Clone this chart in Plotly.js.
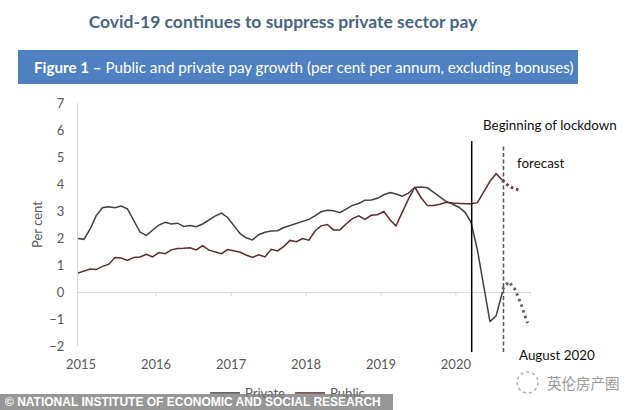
<!DOCTYPE html>
<html><head><meta charset="utf-8">
<script src="https://cdn.plot.ly/plotly-3.0.1.min.js"></script>
<style>
html,body{margin:0;padding:0;background:#fff;}
#wrap{position:relative;width:634px;height:410px;overflow:hidden;}
#chart{width:634px;height:430px;}
#banner{position:absolute;left:0;top:394px;width:393px;height:16px;background:rgba(125,125,125,0.8);color:#fff;font:bold 12px "Liberation Sans",Arial,sans-serif;line-height:16px;white-space:nowrap;padding-left:5px;box-sizing:border-box;overflow:hidden;}
</style></head><body>
<div id="wrap"><div id="chart"></div><div id="banner">© NATIONAL INSTITUTE OF ECONOMIC AND SOCIAL RESEARCH</div></div>
<script>
// ---- data (per cent per annum, monthly, from Dec 2014) ----
const startMonth = '2014-12';
const privateValues = [1.98,1.95,2.35,2.82,3.12,3.16,3.12,3.18,3.08,2.62,2.22,2.10,
  2.27,2.48,2.58,2.52,2.55,2.43,2.46,2.42,2.52,2.67,2.81,2.92,
  2.76,2.45,2.15,2.01,1.93,2.12,2.21,2.26,2.27,2.39,2.46,2.54,
  2.60,2.69,2.83,2.97,3.03,3.01,2.94,3.08,3.21,3.28,3.40,3.41,
  3.47,3.60,3.68,3.63,3.55,3.66,3.87,3.89,3.86,3.69,3.52,3.35,
  3.26,3.14,2.95,2.58,1.55,0.25,-1.10,-0.88,0.00];
const publicValues = [0.70,0.78,0.85,0.83,0.95,1.02,1.28,1.26,1.17,1.28,1.30,1.40,
  1.30,1.46,1.42,1.56,1.61,1.62,1.64,1.56,1.72,1.55,1.48,1.42,
  1.57,1.52,1.47,1.37,1.28,1.38,1.30,1.58,1.52,1.69,1.91,1.86,
  1.98,1.92,2.27,2.45,2.50,2.30,2.30,2.52,2.72,2.82,2.69,2.84,
  2.86,2.98,2.67,2.45,2.95,3.45,3.88,3.50,3.20,3.20,3.25,3.32,
  3.30,3.28,3.27,3.27,3.31,3.70,4.10,4.38,4.14];
const forecastStartMonth = '2020-08';
const privateForecast = [0.10,0.38,0.10,-0.48,-1.15];
const publicForecast = [4.14,3.92,3.82,3.75];
const yearTickVals = ['2015-01-01','2016-01-01','2017-01-01','2018-01-01','2019-01-01','2020-01-01'];
const yearTickText = ['2015','2016','2017','2018','2019','2020'];
const zeroTickVals = ['2016-01-01','2017-01-01','2018-01-01','2019-01-01','2020-01-01','2021-01-01'];
const lockdownDate = '2020-03-18';
const forecastDate = '2020-08-20';
const seriesNames = ['Private','Public'];

function months(start, n){
  const p = start.split('-').map(Number);
  const out = [];
  for (let i = 0; i < n; i++) {
    const t = (p[1] - 1) + i;
    const yy = p[0] + Math.floor(t / 12);
    const mm = t % 12 + 1;
    out.push(yy + '-' + String(mm).padStart(2, '0') + '-15');
  }
  return out;
}

// ---- layout helpers (canvas drawn 20px taller, cropped to 410 by the wrapper) ----
const M = {l:78, r:103, t:103, b:84}, W = 634, H = 430;
const PW = W - M.l - M.r, PH = H - M.t - M.b;
const px = v => (v - M.l) / PW;
const py = v => (H - M.b - v) / PH;

const FONT = 'Lato, "Open Sans", sans-serif';
const privColor = '#404040', pubColor = '#5b2c2c';

const traces = [
  {x: months(startMonth, privateValues.length), y: privateValues, name: seriesNames[0], type: 'scatter', mode: 'lines',
   line: {color: privColor, width: 1.5}},
  {x: months(startMonth, publicValues.length), y: publicValues, name: seriesNames[1], type: 'scatter', mode: 'lines',
   line: {color: pubColor, width: 1.5}},
  {x: months(forecastStartMonth, privateForecast.length), y: privateForecast, type: 'scatter', mode: 'lines', showlegend: false,
   line: {color: '#5f5f5f', width: 3, dash: '2.5px,3.5px'}},
  {x: months(forecastStartMonth, publicForecast.length), y: publicForecast, type: 'scatter', mode: 'lines', showlegend: false,
   line: {color: '#7a2e3e', width: 3, dash: '2.5px,3px'}}
];

const shapes = [
  {type: 'rect', xref: 'paper', yref: 'paper', x0: px(18), x1: px(578), y0: py(84), y1: py(50),
   fillcolor: '#4f81c2', line: {width: 0}, layer: 'below'},
  {type: 'line', xref: 'x', yref: 'paper', x0: lockdownDate, x1: lockdownDate, y0: py(352), y1: py(141),
   line: {color: '#000', width: 1.5}},
  {type: 'line', xref: 'x', yref: 'paper', x0: forecastDate, x1: forecastDate, y0: py(352), y1: py(146),
   line: {color: '#555', width: 1.5, dash: '4px,2.5px'}},
  {type: 'circle', xref: 'paper', yref: 'paper', x0: px(517), x1: px(538), y0: py(393), y1: py(372),
   line: {color: '#b0b0b0', width: 1.5, dash: 'dot'}}
].concat(zeroTickVals.map(d => ({type: 'line', xref: 'x', yref: 'y', x0: d, x1: d, y0: 0, y1: -0.15,
   line: {color: '#d9d9d9', width: 1}})));

const annotations = [
  {xref: 'paper', yref: 'paper', x: px(304), y: py(67), xanchor: 'center', yanchor: 'middle', showarrow: false,
   text: '<b>Figure 1 –</b> Public and private pay growth (per cent per annum, excluding bonuses)',
   font: {family: FONT, size: 15.2, color: '#fff'}},
  {xref: 'paper', yref: 'paper', x: px(481), y: py(125), xanchor: 'left', yanchor: 'middle', showarrow: false,
   text: 'Beginning of lockdown', font: {family: FONT, size: 13.4, color: '#111'}},
  {xref: 'paper', yref: 'paper', x: px(515), y: py(163), xanchor: 'left', yanchor: 'middle', showarrow: false,
   text: 'forecast', font: {family: FONT, size: 13.4, color: '#111'}},
  {xref: 'paper', yref: 'paper', x: px(517), y: py(355), xanchor: 'left', yanchor: 'middle', showarrow: false,
   text: 'August 2020', font: {family: FONT, size: 13.4, color: '#111'}},
  {xref: 'paper', yref: 'paper', x: px(545), y: py(382), xanchor: 'left', yanchor: 'middle', showarrow: false,
   text: '英伦房产圈', font: {family: '"Noto Sans CJK SC", sans-serif', size: 14.5, color: '#9a9a9a'}}
];

const layout = {
  width: W, height: H, margin: M,
  paper_bgcolor: '#fff', plot_bgcolor: '#fff',
  font: {family: FONT, size: 13, color: '#595959'},
  title: {text: '<b>Covid-19 continues to suppress private sector pay</b>',
          font: {family: FONT, size: 17.5, color: '#4a6582'},
          xref: 'container', x: 283 / W, xanchor: 'center', yref: 'container', y: 1 - 22 / H, yanchor: 'middle'},
  xaxis: {type: 'date', range: ['2014-12-17', '2021-01-01'], tickvals: yearTickVals, ticktext: yearTickText,
          showgrid: false, showline: false, zeroline: false, ticks: '', ticklabelstandoff: 9,
          tickfont: {size: 13, color: '#595959'}, fixedrange: true},
  yaxis: {range: [-2, 7], dtick: 1, tick0: 0, showgrid: false, zeroline: true, zerolinecolor: '#d9d9d9', zerolinewidth: 1,
          showline: true, linecolor: '#d9d9d9', linewidth: 1, ticks: '', ticklabelstandoff: 10,
          tickfont: {size: 13, color: '#595959'},
          title: {text: 'Per cent', font: {size: 13, color: '#595959'}, standoff: 3}, fixedrange: true},
  legend: {orientation: 'h', x: px(205), xanchor: 'left', y: py(393), yanchor: 'middle',
           font: {size: 13, color: '#595959'}, bgcolor: 'rgba(0,0,0,0)'},
  shapes: shapes,
  annotations: annotations
};

Plotly.newPlot('chart', traces, layout, {staticPlot: true, displayModeBar: false});
</script>
</body></html>
